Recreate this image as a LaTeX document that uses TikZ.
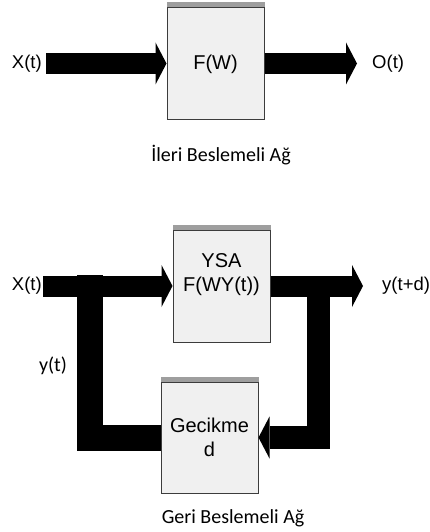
\documentclass[tikz,border=0pt]{standalone}
\usepackage{fontspec}
\setmainfont{Liberation Sans}
\newfontfamily\captionfont{Carlito}
\usetikzlibrary{arrows.meta, positioning, calc}
\definecolor{boxfill}{HTML}{F0F0F0}
\definecolor{boxedge}{HTML}{3C3C3C}
\definecolor{topbar}{HTML}{9E9E9E}
\tikzset{
  netbox/.style={rectangle, fill=boxfill, draw=boxedge, line width=1pt, minimum width=97pt, minimum height=111pt, inner sep=0pt},
  boxtext/.style={align=center, font=\fontsize{20}{24}\selectfont, inner sep=0pt},
  sig/.style={font=\fontsize{18.5}{22}\selectfont, inner sep=0pt},
  capt/.style={font=\captionfont\fontsize{20}{24}\selectfont, inner sep=0pt},
  flow/.style={line width=21pt, -{Triangle[length=11pt, width=42pt, line width=0pt]}},
  loopbar/.style={line width=26pt, line join=miter},
}
\begin{document}
\begin{tikzpicture}[x=1pt,y=-1pt]
\useasboundingbox (0,0) rectangle (430,532);

\node[netbox] (fw) at (215.5,63.5) {};
\node[boxtext] (fwtext) at (215.5,64) {F(W)};
\coordinate (xin1) at (46,63.5);
\coordinate (out1) at (357,63.5);
\draw[flow] (xin1) -- (fw.west);
\draw[flow] (fw.east) -- (out1);
\node[sig, anchor=east] (xlab1) at (42,64) {X(t)};
\node[sig, anchor=west] (olab) at (372,64) {O(t)};
\node[capt] (ffcap) at (221,155) {İleri Beslemeli Ağ};

\node[netbox, minimum height=112pt] (ysa) at (221.5,286) {};
\node[boxtext] (ysatext) at (221.5,275) {YSA\\F(WY(t))};
\node[netbox] (gec) at (209.5,437.5) {};
\node[boxtext] (gectext) at (209.5,437.5) {Gecikme\\d};
\coordinate (xin2) at (43,286);
\coordinate (out2) at (363,286);
\coordinate (ltop) at (89.5,275);
\coordinate (rtop) at (318.5,287);
\draw[flow] (xin2) -- (ysa.west);
\draw[flow] (ysa.east) -- (out2);
\draw[loopbar] (gec.west) -| (ltop);
\draw[flow, line width=23pt, line join=miter] (rtop) |- (gec.east);
\node[sig, anchor=east] (xlab2) at (42,286) {X(t)};
\node[sig, anchor=west] (ylab) at (382,286) {y(t+d)};
\node[capt] (ylab0) at (53,366) {y(t)};
\node[capt] (fbcap) at (233,518) {Geri Beslemeli Ağ};

\foreach \b in {fw,ysa,gec}
  \fill[topbar] (\b.north west) rectangle ([yshift=5pt]\b.north east);
\end{tikzpicture}
\end{document}
